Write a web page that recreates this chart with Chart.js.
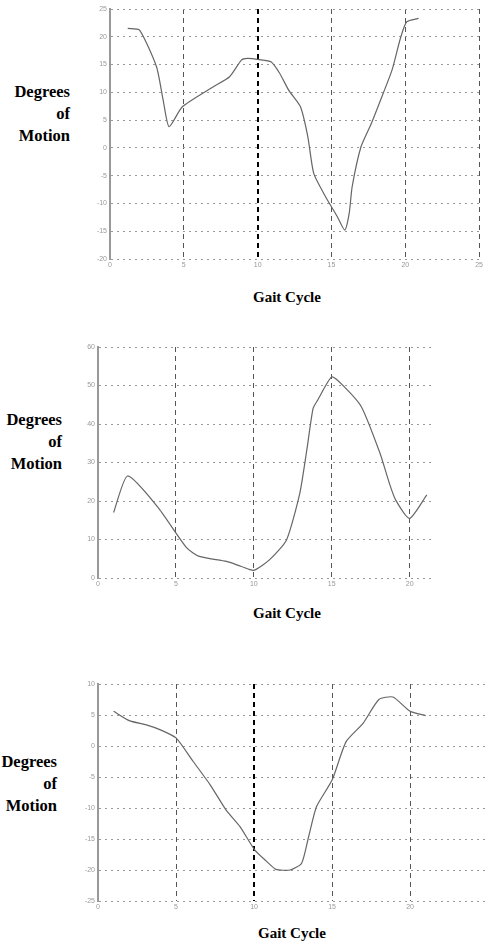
<!DOCTYPE html>
<html>
<head>
<meta charset="utf-8">
<script src="https://cdn.jsdelivr.net/npm/chart.js@4"></script>
<style>
    body { margin: 0; background: #fff; width: 485px; height: 946px; position: relative; overflow: hidden; }
    canvas { position: absolute; }
    .ytitle, .xtitle { position: absolute; font-family: "Liberation Serif", "DejaVu Serif", serif; font-weight: bold; color: #000; }
    .ytitle { text-align: right; line-height: 22px; font-size: 16.5px; }
    .xtitle { line-height: 18px; font-size: 15px; }
</style>
</head>
<body>
<div class="ytitle" style="right:415px; top:81px;">Degrees<br>of<br>Motion</div>
<div class="xtitle" style="left:253px; top:288px;">Gait Cycle</div>
<canvas id="chart1" width="405" height="280" style="left:80px; top:0px;"></canvas>

<div class="ytitle" style="right:423px; top:409px;">Degrees<br>of<br>Motion</div>
<div class="xtitle" style="left:253px; top:604px;">Gait Cycle</div>
<canvas id="chart2" width="425" height="265" style="left:60px; top:335px;"></canvas>

<div class="ytitle" style="right:428px; top:751px;">Degrees<br>of<br>Motion</div>
<div class="xtitle" style="left:258px; top:924px;">Gait Cycle</div>
<canvas id="chart3" width="425" height="245" style="left:60px; top:675px;"></canvas>

<script>
// gait cycle positions and degrees
const cycle1 = [1.2, 2.0, 3.15, 3.6, 4.0, 4.9, 7.0, 8.1, 8.9, 9.3, 10.1, 10.9, 11.5, 12.1, 12.9, 13.4, 13.8, 14.6, 15.4, 15.9, 16.2, 16.4, 17.0, 17.7, 18.5, 19.1, 19.7, 20.1, 20.9];
const motion1 = [21.5, 21.2, 14.6, 8.6, 3.8, 7.4, 11.0, 12.8, 15.8, 16.1, 15.9, 15.5, 13.4, 10.4, 7.4, 2.0, -4.6, -8.8, -12.4, -14.8, -11.8, -7.0, 0.2, 4.4, 9.8, 14.0, 20.0, 22.7, 23.3];

const cycle2 = [1.0, 1.9, 3.8, 5.7, 6.5, 8.25, 9.2, 10.0, 11.0, 12.1, 12.95, 13.4, 13.8, 14.1, 15.0, 15.7, 16.9, 18.1, 18.7, 19.1, 20.0, 21.1];
const motion2 = [17.0, 26.5, 18.6, 7.8, 5.6, 4.3, 3.0, 2.0, 4.7, 9.9, 22.0, 33.2, 44.0, 46.2, 52.2, 50.1, 44.5, 32.4, 24.6, 20.3, 15.5, 21.6];

const cycle3 = [1.0, 2.0, 3.1, 4.0, 5.0, 6.1, 7.2, 8.2, 9.1, 10.05, 10.8, 11.4, 12.3, 13.05, 13.5, 14.0, 15.0, 15.9, 17.0, 18.0, 18.9, 20.0, 21.0];
const motion3 = [5.6, 4.1, 3.4, 2.6, 1.3, -2.5, -6.3, -10.3, -13.0, -16.8, -18.6, -19.9, -20.0, -18.9, -14.6, -9.8, -5.5, 0.7, 3.7, 7.5, 7.9, 5.6, 4.9];

function toPoints(xs, ys) {
    return xs.map((x, i) => ({ x: x, y: ys[i] }));
}

function makeChart(id, xs, ys, opts) {
    const ctx = document.getElementById(id).getContext('2d');
    return new Chart(ctx, {
        type: 'line',
        data: {
            datasets: [{
                data: toPoints(xs, ys),
                borderColor: '#666',
                borderWidth: 1.2,
                pointRadius: 0,
                tension: 0.2,
                fill: false
            }]
        },
        options: {
            responsive: false,
            animation: false,
            layout: { padding: opts.padding },
            plugins: { legend: { display: false }, tooltip: { enabled: false } },
            scales: {
                x: {
                    type: 'linear',
                    min: 0,
                    max: opts.xMax,
                    afterFit: function(scale) { scale.height = opts.xAxisHeight; },
                    ticks: {
                        stepSize: 5,
                        includeBounds: false,
                        maxRotation: 0,
                        color: '#999',
                        font: { size: 7 },
                        padding: 2,
                        callback: function(v) { return v > opts.xLastLabel ? '' : v; }
                    },
                    grid: {
                        color: function(c) { return c.tick && c.tick.value === 10 && opts.boldTen ? '#000' : '#555'; },
                        lineWidth: function(c) { return c.tick && c.tick.value === 10 && opts.boldTen ? 2 : 1; },
                        drawTicks: false
                    },
                    border: { display: false, dash: [5, 4] }
                },
                y: {
                    min: opts.yMin,
                    max: opts.yMax,
                    afterFit: function(scale) { scale.width = opts.yAxisWidth; },
                    ticks: {
                        stepSize: opts.yStep,
                        color: '#999',
                        font: { size: 7 },
                        padding: 3
                    },
                    grid: {
                        color: '#999',
                        lineWidth: 1,
                        drawTicks: false
                    },
                    border: { display: true, color: '#999', width: 2, dash: [2, 4] }
                }
            }
        }
    });
}

makeChart('chart1', cycle1, motion1, {
    padding: { top: 9, right: 4, left: 0, bottom: 0 },
    xMax: 25, xLastLabel: 25, xAxisHeight: 21, yAxisWidth: 30,
    yMin: -20, yMax: 25, yStep: 5, boldTen: true
});

makeChart('chart2', cycle2, motion2, {
    padding: { top: 12, right: 52, left: 0, bottom: 0 },
    xMax: 21.5, xLastLabel: 20, xAxisHeight: 22, yAxisWidth: 38,
    yMin: 0, yMax: 60, yStep: 10, boldTen: false
});

makeChart('chart3', cycle3, motion3, {
    padding: { top: 9, right: 0, left: 0, bottom: 0 },
    xMax: 24.8, xLastLabel: 20, xAxisHeight: 19, yAxisWidth: 38,
    yMin: -25, yMax: 10, yStep: 5, boldTen: true
});
</script>
</body>
</html>
